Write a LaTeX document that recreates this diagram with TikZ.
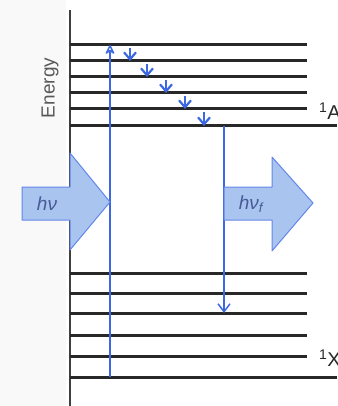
\documentclass[tikz,border=0pt]{standalone}
\usepackage{fontspec}
\setmainfont{Liberation Sans}
\usetikzlibrary{arrows.meta}
\definecolor{levelGray}{RGB}{40,40,40}
\definecolor{photonBlue}{RGB}{60,105,225}
\definecolor{photonFill}{RGB}{170,196,240}
\definecolor{labelBlue}{RGB}{70,90,150}

\begin{document}
\begin{tikzpicture}[x=1pt,y=-1pt,
  level/.style={draw=levelGray,line width=3pt},
  transition/.style={draw=photonBlue,line width=1.5pt},
  photon/.style={draw=photonBlue!80,fill=photonFill,line width=1pt,line join=round},
  photonlabel/.style={text=labelBlue,font=\fontsize{19}{22}\selectfont\itshape},
  statelabel/.style={anchor=west,font=\fontsize{20}{24}\selectfont,text=levelGray,inner sep=0pt}]
\useasboundingbox (0,0) rectangle (337,406);
\fill[gray!5] (0,0) rectangle (66,406);
\draw[gray!50!black,line width=1.4pt] (70,10) -- (70,406);
\node[rotate=90,text=gray!70!black,font=\fontsize{19}{22}\selectfont] (energy) at (50,88) {Energy};
% excited state 1A
\foreach \y [count=\i] in {45,61,77,93,109} {
  \draw[level] (70,\y) -- (307,\y);
  \coordinate (a\i) at (70,\y);
}
\draw[level] (70,126) -- (337,126);
\coordinate (a6) at (70,126);
\node[statelabel] (stateA) at (319,111) {\textsuperscript{1}A};
% ground state 1X
\foreach \y [count=\i] in {273,293,313,335,356} {
  \draw[level] (70,\y) -- (307,\y);
  \coordinate (x\i) at (70,\y);
}
\draw[level] (70,377) -- (337,377);
\coordinate (x6) at (70,377);
\node[statelabel] (stateX) at (319,358) {\textsuperscript{1}X};
% absorption and fluorescence
\coordinate (absBot) at ([xshift=40pt]x6);
\coordinate (absTop) at ([xshift=40pt]a1);
\draw[transition,-{Stealth[open,round,length=11pt,width=11pt]}] (absBot) -- (absTop);
\coordinate (emTop) at ([xshift=154pt]a6);
\coordinate (emBot) at ([xshift=154pt]x3);
\draw[transition,-{Straight Barb[length=8pt,width=12pt]}] (emTop) -- (emBot);
% vibrational relaxation
\foreach \i/\j/\dx in {1/2/60,2/3/77,3/4/96,4/5/115,5/6/134}
  \draw[transition,line width=2.2pt,-{Straight Barb[length=7pt,width=12pt]}]
    ([xshift=\dx pt,yshift=-3pt]a\i) -- ([xshift=\dx pt]a\j);
% photon arrows
\draw[photon] (22,187) -- (70,187) -- (70,153) -- (110,202) -- (70,250) -- (70,220) -- (22,220) -- cycle;
\node[photonlabel] (hvIn) at (47,204) {hν};
\draw[photon] (224,187) -- (272,187) -- (272,157) -- (313,203) -- (272,251) -- (272,220) -- (224,220) -- cycle;
\node[photonlabel] (hvOut) at (251,204) {hν\textsubscript{f}};
\end{tikzpicture}
\end{document}
